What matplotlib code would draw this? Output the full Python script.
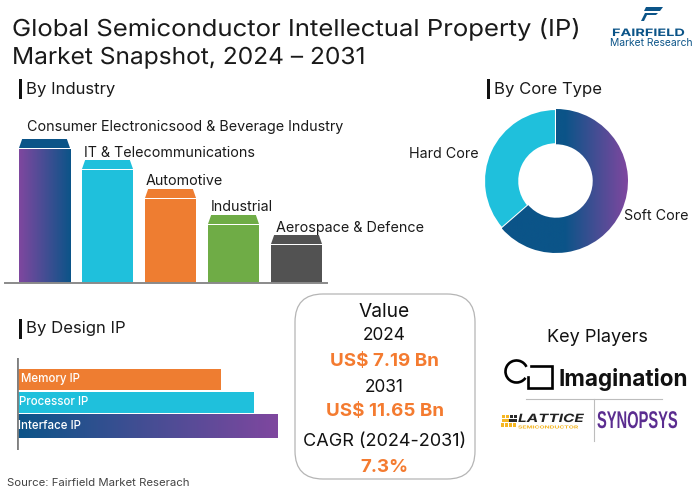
import numpy as np
import matplotlib
matplotlib.use("Agg")
import matplotlib.pyplot as plt
from matplotlib.colors import LinearSegmentedColormap
from matplotlib.patches import Arc, FancyBboxPatch, Polygon, Rectangle
from matplotlib.patheffects import AbstractPathEffect
from matplotlib.transforms import Affine2D

plt.rcParams['font.family'] = ['Inter', 'DejaVu Sans']

# data
industry_labels = ["Consumer Electronicsood & Beverage Industry", "IT & Telecommunications",
                   "Automotive", "Industrial", "Aerospace & Defence"]
industry_values = [134, 113, 84, 58, 38]
core_labels = ["Soft Core", "Hard Core"]
core_values = [63.6, 36.4]
design_labels = ["Memory IP", "Processor IP", "Interface IP"]
design_values = [204, 237, 261]

BLUE = "#0b5488"
PURPLE = "#7f479f"
CYAN = "#1fc0dc"
ORANGE = "#ee7d31"
GREEN = "#6fac46"
GREY = "#525252"
TEXT_ORANGE = "#f47b30"
W, H = 700, 491

grad_purple_blue = LinearSegmentedColormap.from_list("pb", [PURPLE, BLUE])
grad_blue_purple = LinearSegmentedColormap.from_list("bp", [BLUE, PURPLE])


# stretches glyphs, the installed fonts are narrower than the original ones
class Stretch(AbstractPathEffect):
    def __init__(self, sx=1.0, sy=1.0):
        super().__init__()
        self.sx = sx
        self.sy = sy

    def draw_path(self, renderer, gc, tpath, affine, rgbFace=None):
        renderer.draw_path(gc, tpath, Affine2D().scale(self.sx, self.sy) + affine, rgbFace)


def px_axes(x0, y_top, x1, y_bottom):
    return fig.add_axes([x0 / W, 1 - y_bottom / H, (x1 - x0) / W, (y_bottom - y_top) / H])


def gradient_fill(ax, patch, cmap, extent):
    xlim, ylim = ax.get_xlim(), ax.get_ylim()
    img = ax.imshow(np.linspace(0, 1, 256).reshape(1, -1), cmap=cmap, extent=extent,
                    aspect='auto', zorder=patch.get_zorder())
    img.set_clip_path(patch)
    ax.set_xlim(xlim)
    ax.set_ylim(ylim)


fig = plt.figure(figsize=(7, 4.91), dpi=100)

# overlay in pixel coordinates for the text and the logos
page = fig.add_axes([0, 0, 1, 1], zorder=5)
page.set_xlim(0, W)
page.set_ylim(H, 0)
page.axis('off')
page.patch.set_alpha(0)

page.text(12, 36, "Global Semiconductor Intellectual Property (IP)", fontsize=16.8, color="#1a1a1a",
          va='baseline', path_effects=[Stretch(1.1)])
page.text(12, 64, "Market Snapshot, 2024 \u2013 2031", fontsize=16.8, color="#1a1a1a",
          va='baseline', path_effects=[Stretch(1.05)])

# section headers
for x, y, s in [(26, 89, "By Industry"), (494, 89, "By Core Type"), (26, 329, "By Design IP")]:
    page.text(x, y, s, fontsize=12, color="#1a1a1a", va='center')
    page.add_patch(Rectangle((x - 7, y - 10), 3.2, 20, color="#111111", lw=0))

# industry columns
ax_ind = px_axes(5, 100, 327, 283)
ax_ind.set_xlim(-0.627, 4.484)
ax_ind.set_ylim(0, 183)
ax_ind.axis('off')
bar_colors = [BLUE, CYAN, ORANGE, GREEN, GREY]
bars = ax_ind.bar(range(len(industry_values)), industry_values, width=0.81, color=bar_colors)
gradient_fill(ax_ind, bars[0], grad_purple_blue,
              [bars[0].get_x(), bars[0].get_x() + bars[0].get_width(), 0, industry_values[0]])
for bar, c in zip(bars, bar_colors):
    x0, x1, top = bar.get_x(), bar.get_x() + bar.get_width(), bar.get_height()
    ax_ind.add_patch(Polygon([(x0, top + 1), (x1, top + 1), (x1 - 0.05, top + 10), (x0 + 0.05, top + 10)],
                             closed=True, color=c, lw=0))
ax_ind.axhline(0, color="#8a8a8a", lw=1.4, clip_on=False)

label_pos = [(27, 127), (84, 153), (146, 181), (211, 207), (276, 228)]
for (x, y), s in zip(label_pos, industry_labels):
    page.text(x, y, s, fontsize=10.3, color="#1a1a1a", va='center')

# core type donut
ax_core = px_axes(484, 109, 628, 253)
wedges, _ = ax_core.pie(core_values, startangle=90, counterclock=False, radius=1,
                        colors=[BLUE, CYAN],
                        wedgeprops=dict(width=0.49, edgecolor='white', linewidth=1.5))
ax_core.set_xlim(-1, 1)
ax_core.set_ylim(-1, 1)
gradient_fill(ax_core, wedges[0], LinearSegmentedColormap.from_list("dn", [BLUE, BLUE, PURPLE]), [-0.75, 1, -1, 1])
page.text(624, 216, core_labels[0], fontsize=10.3, color="#1a1a1a", va='center')
page.text(409, 154, core_labels[1], fontsize=10.3, color="#1a1a1a", va='center')

# design IP bars
ax_des = px_axes(17, 358, 300, 450)
ax_des.set_xlim(0, 283)
ax_des.set_ylim(92, 0)
ax_des.axis('off')
rows = [21, 44, 68]
heights = [21, 21, 24]
hbars = ax_des.barh(rows, design_values, height=heights, color=[ORANGE, CYAN, BLUE], zorder=2)
gradient_fill(ax_des, hbars[2], grad_blue_purple, [0, design_values[2], 92, 0])
ax_des.axvline(0, color="#7f7f7f", lw=2, zorder=3)
for y, off, s in zip(rows, [4, 2, 1], design_labels):
    ax_des.text(off, y, s, color='white', fontsize=8.3, fontweight='medium', va='center', zorder=4)

page.text(7, 483, "Source: Fairfield Market Reserach", fontsize=8.2, color="#444444", va='center')

# value box
page.add_patch(FancyBboxPatch((295 + 28, 294 + 28), 180 - 56, 185 - 56,
                              boxstyle="round,pad=28,rounding_size=28", fc='white', ec="#b5b5b5", lw=0.9, zorder=1))
box_lines = [("Value", 312, 13.8, "#111111", 'normal'),
             ("2024", 336, 12.4, "#111111", 'normal'),
             ("US$ 7.19 Bn", 361, 13.5, TEXT_ORANGE, 'bold'),
             ("2031", 387, 12.4, "#111111", 'normal'),
             ("US$ 11.65 Bn", 412, 13.5, TEXT_ORANGE, 'bold'),
             ("CAGR (2024-2031)", 442, 13, "#111111", 'normal'),
             ("7.3%", 467, 13.5, TEXT_ORANGE, 'bold')]
for s, y, size, c, weight in box_lines:
    page.text(384.5, y, s, ha='center', va='center', fontsize=size, color=c, fontweight=weight)

# fairfield logo
page.add_patch(Polygon([(646, 7), (663, 7), (660, 11), (644, 11)], color=BLUE, lw=0))
page.add_patch(Polygon([(645, 13), (658, 13), (656, 15), (647, 15), (644, 21), (641, 21)], color=BLUE, lw=0))
page.text(612, 36, "FAIRFIELD", va='baseline', fontsize=8.2, fontweight='bold', color=BLUE,
          path_effects=[Stretch(1.27, 0.9)])
page.text(610, 46, "Market Research", va='baseline', fontsize=7.4, color=BLUE)

# key players
page.text(597.5, 337, "Key Players", ha='center', va='center', fontsize=13, color="#111111")
page.add_patch(Arc((516.5, 371.5), 22, 22, theta1=35, theta2=335, ec='black', lw=1.9))
page.plot([528, 528, 552, 552, 531], [377, 388, 388, 366, 366], color='black', lw=1.9,
          solid_joinstyle='miter')
page.text(558, 386, "Imagination", va='baseline', fontsize=16.2, fontweight='bold', color="#111111")
page.plot([526, 662], [399, 399], color="#bdbdbd", lw=0.8)
page.plot([594, 594], [399, 441], color="#bdbdbd", lw=0.8)
for r in range(3):
    for c in range(4):
        page.add_patch(Rectangle((502 + c * 3.9 - r * 0.5, 414.5 + r * 4.2), 3.3, 3.6, color="#f5b622" if c < 2 or r == 2 else "#2a2a2a", lw=0))
page.text(518, 422, "LATTICE", va='baseline', fontsize=8.2, fontweight='bold', style='italic', color="#222222",
          path_effects=[Stretch(1.35)])
page.text(518, 428.5, "SEMICONDUCTOR", va='baseline', fontsize=3, fontweight='bold', color="#f5b622",
          path_effects=[Stretch(1.6)])
page.text(597, 428, "SYNOPSYS", va='baseline', fontsize=12, fontweight='bold', color="#5b2d90",
          family=['Liberation Sans'], path_effects=[Stretch(0.88, 1.45)])

fig.savefig("out.png", dpi=100)
